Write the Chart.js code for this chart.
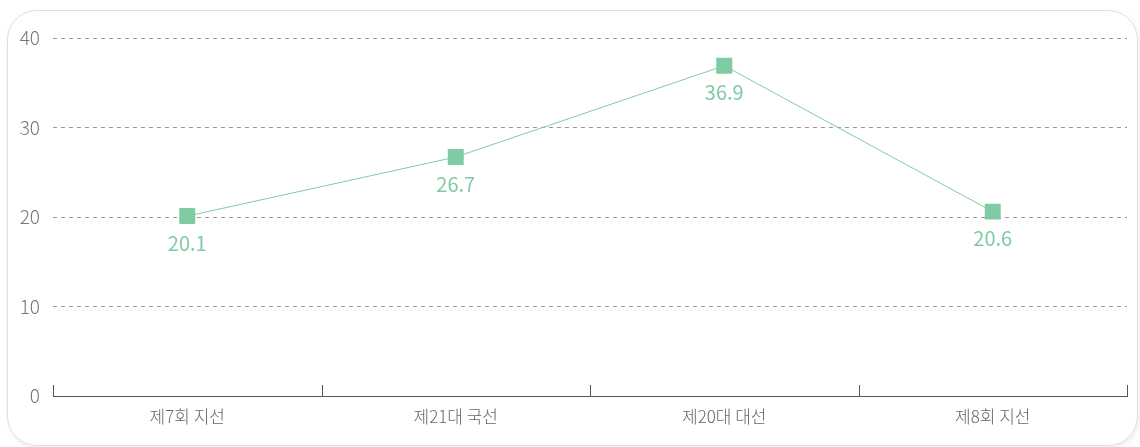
<!DOCTYPE html>
<html lang="ko">
<head>
<meta charset="utf-8">
<script src="https://cdn.jsdelivr.net/npm/chart.js@4/dist/chart.umd.min.js"></script>
<style>
    html, body { margin: 0; padding: 0; background: #fff; }
    .box {
        position: absolute;
        left: 7px;
        top: 10px;
        width: 1131px;
        height: 436px;
        box-sizing: border-box;
        border: 1px solid #e0e0e0;
        border-radius: 30px;
        box-shadow: 1px 2px 4px rgba(0, 0, 0, 0.08);
    }
    #chart { position: absolute; left: 0; top: 0; }
</style>
</head>
<body>
<div class="box"></div>
<canvas id="chart" width="1140" height="447"></canvas>
<script>
const categories = ["제7회 지선", "제21대 국선", "제20대 대선", "제8회 지선"];
const values = [20.1, 26.7, 36.9, 20.6];
const y_ticks = [0, 10, 20, 30, 40];

const green = "#7fcba3";
const font_family = "'Noto Sans CJK KR', 'Noto Sans', sans-serif";

// value labels under each point
const pointLabels = {
    id: "pointLabels",
    afterDatasetsDraw(chart) {
        const ctx = chart.ctx;
        const meta = chart.getDatasetMeta(0);
        ctx.save();
        ctx.fillStyle = green;
        ctx.font = "400 20px " + font_family;
        ctx.textAlign = "center";
        ctx.textBaseline = "middle";
        meta.data.forEach((point, i) => {
            ctx.fillText(values[i].toFixed(1), point.x, point.y + 27);
        });
        ctx.restore();
    },
};

// short upward ticks on the x axis between categories
const axisTicks = {
    id: "axisTicks",
    afterDraw(chart) {
        const x = chart.scales.x;
        const ctx = chart.ctx;
        const half = (x.getPixelForValue(1) - x.getPixelForValue(0)) / 2;
        const bottom = chart.chartArea.bottom;
        ctx.save();
        ctx.strokeStyle = "#555";
        ctx.lineWidth = 1;
        ctx.beginPath();
        for (let i = 0; i <= categories.length; i++) {
            const px = Math.round(x.getPixelForValue(0) - half + i * half * 2) + 0.5;
            ctx.moveTo(px, bottom);
            ctx.lineTo(px, bottom - 11);
        }
        ctx.stroke();
        ctx.restore();
    },
};

new Chart(document.getElementById("chart"), {
    type: "line",
    data: {
        labels: categories,
        datasets: [{
            data: values,
            borderColor: green,
            borderWidth: 1,
            backgroundColor: green,
            pointStyle: "rect",
            pointRadius: 11.3,
            pointBorderWidth: 0,
            pointBackgroundColor: green,
            tension: 0,
        }],
    },
    options: {
        responsive: false,
        animation: false,
        events: [],
        layout: { padding: { top: 38, right: 13, left: 0, bottom: 0 } },
        plugins: {
            legend: { display: false },
            tooltip: { enabled: false },
        },
        scales: {
            x: {
                offset: true,
                grid: { display: false },
                border: { display: true, color: "#555", width: 1 },
                ticks: {
                    color: "#666",
                    padding: 2,
                    font: { family: font_family, size: 17, weight: 300 },
                },
                afterFit(scale) { scale.height = 51; },
            },
            y: {
                min: 0,
                max: 40,
                afterBuildTicks(scale) {
                    scale.ticks = y_ticks.map((v) => ({ value: v }));
                },
                grid: {
                    color: "#999",
                    lineWidth: 1,
                    drawTicks: false,
                },
                border: { display: false, dash: [4, 4] },
                ticks: {
                    color: "#777",
                    padding: 13,
                    font: { family: font_family, size: 19, weight: 300 },
                },
                afterFit(scale) { scale.width = 53; },
            },
        },
    },
    plugins: [pointLabels, axisTicks],
});
</script>
</body>
</html>
